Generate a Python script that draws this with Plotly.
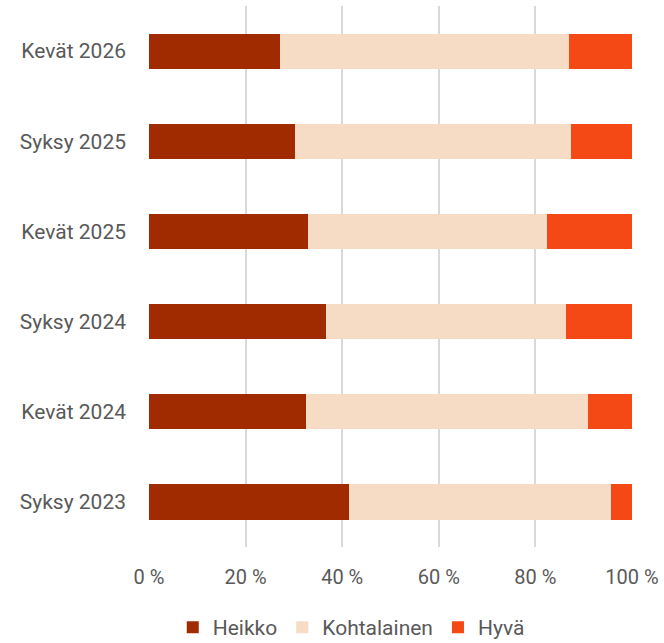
import plotly.graph_objects as go

# Kategoriat alhaalta ylös
kaudet = ["Syksy 2023", "Kevät 2024", "Syksy 2024", "Kevät 2025", "Syksy 2025", "Kevät 2026"]

heikko = [41.4, 32.5, 36.7, 32.9, 30.3, 27.1]
kohtalainen = [54.2, 58.4, 49.6, 49.4, 57.1, 59.8]
hyva = [4.4, 9.1, 13.7, 17.7, 12.6, 13.1]

x_arvot = [0, 20, 40, 60, 80, 100]
x_tekstit = ["0 %", "20 %", "40 %", "60 %", "80 %", "100 %"]

sarjat = [
    ("Heikko", heikko, "#A02B00"),
    ("Kohtalainen", kohtalainen, "#F6DBC5"),
    ("Hyvä", hyva, "#F44915"),
]

fig = go.Figure()
for nimi, arvot, vari in sarjat:
    fig.add_trace(go.Bar(
        y=kaudet, x=arvot, name=nimi, orientation="h",
        marker=dict(color=vari, line=dict(width=0)),
    ))

fig.update_layout(
    barmode="stack",
    bargap=0.61,
    width=664, height=643,
    margin=dict(l=149, r=32, t=6, b=96),
    plot_bgcolor="white", paper_bgcolor="white",
    font=dict(family="Roboto", size=21, color="#595959"),
    legend=dict(orientation="h", xref="container", x=0.529, xanchor="center",
                yref="container", y=0.024, yanchor="middle",
                font=dict(size=21), traceorder="normal", itemwidth=30),
    xaxis=dict(range=[0, 100], tickvals=x_arvot, ticktext=x_tekstit,
               tickfont=dict(size=20),
               showgrid=True, gridcolor="#D9D9D9", gridwidth=2, zeroline=False,
               showline=False, ticks="", ticklabelstandoff=16, automargin=False),
    yaxis=dict(showgrid=False, ticks="", ticklabelstandoff=22, showline=False,
               automargin=False),
)

# poistetaan sivun oletusmarginaali
fig.write_html("out.html", config={"displayModeBar": False},
               post_script="document.body.style.margin='0';")
